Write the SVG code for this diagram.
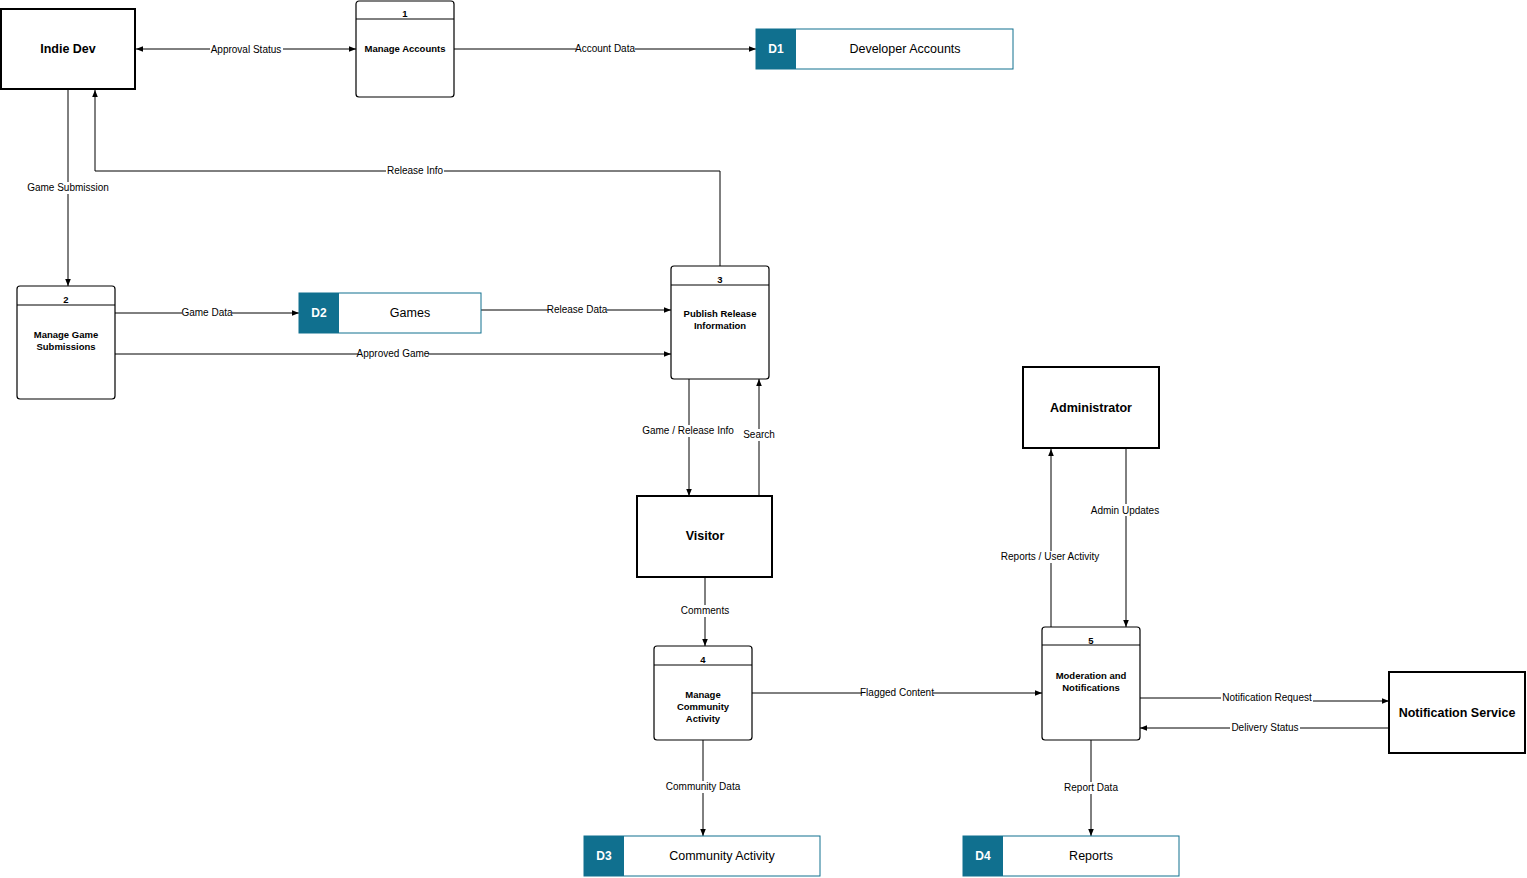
<svg xmlns="http://www.w3.org/2000/svg" width="1527" height="878" viewBox="0 0 1527 878">
<defs>
<marker id="a" viewBox="0 0 10 10" refX="10" refY="5" markerWidth="7" markerHeight="7" orient="auto-start-reverse"><path d="M0,1 L10,5 L0,9 z" fill="#000"/></marker>
<style>
text{font-family:"Liberation Sans",Arial,sans-serif;fill:#000}
.ent{fill:#fff;stroke:#000;stroke-width:2}
.proc{fill:#fff;stroke:#000;stroke-width:1.2}
.ds{fill:#fff;stroke:#10708f;stroke-width:1}
.dsk{fill:#10708f}
.dsid{fill:#fff;font-weight:bold;font-size:12px;text-anchor:middle}
.dsn{font-size:12.5px;text-anchor:middle}
.en{font-weight:bold;font-size:12.5px;text-anchor:middle}
.pn{font-weight:bold;font-size:9.5px;text-anchor:middle}
.c line,.c path{stroke:#000;stroke-width:1;fill:none;marker-end:url(#a)}
.lb{font-size:10px;text-anchor:middle}
.lbbg{fill:#fff}
</style>
</defs>
<rect width="1527" height="878" fill="#fff"/>
<g class="c">
<line x1="136" y1="49" x2="356" y2="49" marker-start="url(#a)"/>
<line x1="454" y1="49" x2="756" y2="49"/>
<line x1="68" y1="90" x2="68" y2="286"/>
<path d="M720,266 V171 H95 V90"/>
<line x1="115" y1="313" x2="299" y2="313"/>
<line x1="481" y1="310" x2="671" y2="310"/>
<line x1="115" y1="354" x2="671" y2="354"/>
<line x1="689" y1="379" x2="689" y2="496"/>
<line x1="759" y1="496" x2="759" y2="379"/>
<line x1="705" y1="578" x2="705" y2="646"/>
<line x1="703" y1="740" x2="703" y2="836"/>
<line x1="752" y1="693" x2="1042" y2="693"/>
<line x1="1051" y1="627" x2="1051" y2="449"/>
<line x1="1126" y1="449" x2="1126" y2="627"/>
<path d="M1140,698 H1270 V701 H1389"/>
<line x1="1389" y1="728" x2="1140" y2="728"/>
<line x1="1091" y1="740" x2="1091" y2="836"/>
</g>
<g id="labels">
<rect class="lbbg" x="210" y="43" width="73" height="12"/><text class="lb" x="246" y="53">Approval Status</text>
<rect class="lbbg" x="576" y="43" width="59" height="12"/><text class="lb" x="605" y="52">Account Data</text>
<rect class="lbbg" x="26" y="182" width="84" height="12"/><text class="lb" x="68" y="191">Game Submission</text>
<rect class="lbbg" x="386" y="165" width="58" height="12"/><text class="lb" x="415" y="174">Release Info</text>
<rect class="lbbg" x="182" y="307" width="50" height="12"/><text class="lb" x="207" y="316">Game Data</text>
<rect class="lbbg" x="548" y="304" width="59" height="12"/><text class="lb" x="577" y="313">Release Data</text>
<rect class="lbbg" x="358" y="348" width="70" height="12"/><text class="lb" x="393" y="357">Approved Game</text>
<rect class="lbbg" x="641" y="425" width="95" height="12"/><text class="lb" x="688" y="434">Game / Release Info</text>
<rect class="lbbg" x="742" y="429" width="34" height="12"/><text class="lb" x="759" y="438">Search</text>
<rect class="lbbg" x="680" y="605" width="50" height="12"/><text class="lb" x="705" y="614">Comments</text>
<rect class="lbbg" x="667" y="781" width="72" height="12"/><text class="lb" x="703" y="790">Community Data</text>
<rect class="lbbg" x="862" y="687" width="71" height="12"/><text class="lb" x="897" y="696">Flagged Content</text>
<rect class="lbbg" x="1000" y="551" width="101" height="12"/><text class="lb" x="1050" y="560">Reports / User Activity</text>
<rect class="lbbg" x="1089" y="504" width="72" height="12"/><text class="lb" x="1125" y="514">Admin Updates</text>
<rect class="lbbg" x="1221" y="692" width="92" height="12"/><text class="lb" x="1267" y="701">Notification Request</text>
<rect class="lbbg" x="1230" y="722" width="70" height="12"/><text class="lb" x="1265" y="731">Delivery Status</text>
<rect class="lbbg" x="1065" y="782" width="52" height="12"/><text class="lb" x="1091" y="791">Report Data</text>
</g>
<g id="indie"><rect class="ent" x="1" y="9" width="134" height="80"/><text class="en" x="68" y="53">Indie Dev</text></g>
<g id="p1"><rect class="proc" x="356" y="1" width="98" height="96" rx="3"/><line x1="356" y1="19" x2="454" y2="19" stroke="#000"/><text class="pn" x="405" y="17">1</text><text class="pn" x="405" y="52">Manage Accounts</text></g>
<g id="d1"><rect class="ds" x="756" y="29" width="257" height="40"/><rect class="dsk" x="756" y="29" width="40" height="40"/><text class="dsid" x="776" y="53">D1</text><text class="dsn" x="905" y="53">Developer Accounts</text></g>
<g id="p2"><rect class="proc" x="17" y="286" width="98" height="113" rx="3"/><line x1="17" y1="305" x2="115" y2="305" stroke="#000"/><text class="pn" x="66" y="303">2</text><text class="pn" x="66" y="338">Manage Game</text><text class="pn" x="66" y="350">Submissions</text></g>
<g id="d2"><rect class="ds" x="299" y="293" width="182" height="40"/><rect class="dsk" x="299" y="293" width="40" height="40"/><text class="dsid" x="319" y="317">D2</text><text class="dsn" x="410" y="317">Games</text></g>
<g id="p3"><rect class="proc" x="671" y="266" width="98" height="113" rx="3"/><line x1="671" y1="285" x2="769" y2="285" stroke="#000"/><text class="pn" x="720" y="283">3</text><text class="pn" x="720" y="317">Publish Release</text><text class="pn" x="720" y="329">Information</text></g>
<g id="visitor"><rect class="ent" x="637" y="496" width="135" height="81"/><text class="en" x="705" y="540">Visitor</text></g>
<g id="p4"><rect class="proc" x="654" y="646" width="98" height="94" rx="3"/><line x1="654" y1="665" x2="752" y2="665" stroke="#000"/><text class="pn" x="703" y="663">4</text><text class="pn" x="703" y="698">Manage</text><text class="pn" x="703" y="710">Community</text><text class="pn" x="703" y="722">Activity</text></g>
<g id="d3"><rect class="ds" x="584" y="836" width="236" height="40"/><rect class="dsk" x="584" y="836" width="40" height="40"/><text class="dsid" x="604" y="860">D3</text><text class="dsn" x="722" y="860">Community Activity</text></g>
<g id="admin"><rect class="ent" x="1023" y="367" width="136" height="81"/><text class="en" x="1091" y="412">Administrator</text></g>
<g id="p5"><rect class="proc" x="1042" y="627" width="98" height="113" rx="3"/><line x1="1042" y1="645" x2="1140" y2="645" stroke="#000"/><text class="pn" x="1091" y="644">5</text><text class="pn" x="1091" y="679">Moderation and</text><text class="pn" x="1091" y="691">Notifications</text></g>
<g id="notif"><rect class="ent" x="1389" y="672" width="136" height="81"/><text class="en" x="1457" y="717">Notification Service</text></g>
<g id="d4"><rect class="ds" x="963" y="836" width="216" height="40"/><rect class="dsk" x="963" y="836" width="40" height="40"/><text class="dsid" x="983" y="860">D4</text><text class="dsn" x="1091" y="860">Reports</text></g>
</svg>
